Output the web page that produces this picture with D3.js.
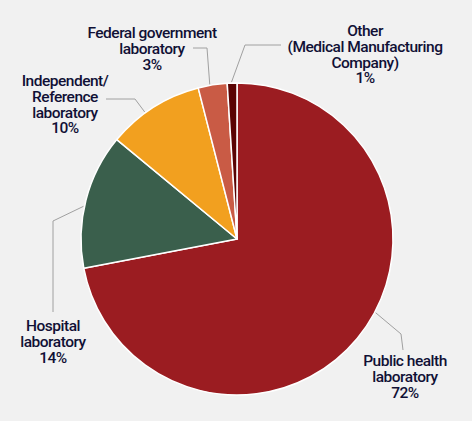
<!DOCTYPE html>
<html>
<head>
<meta charset="utf-8">
<script src="https://cdn.jsdelivr.net/npm/d3@7"></script>
<style>
  html, body { margin: 0; padding: 0; background: #f1f1f1; }
  #chart { width: 472px; height: 421px; }
  .lbl { font-family: "Roboto", sans-serif; font-weight: 500; font-size: 15.5px; letter-spacing: -0.5px; fill: #101035; }
</style>
</head>
<body>
<div id="chart"><svg></svg></div>
<script>
var categories = ["Public health laboratory", "Hospital laboratory", "Independent/Reference laboratory",
    "Federal government laboratory", "Other (Medical Manufacturing Company)"];
var values = [72, 14, 10, 3, 1];
var labelLines = [
    ["Public health", "laboratory", "72%"],
    ["Hospital", "laboratory", "14%"],
    ["Independent/", "Reference", "laboratory", "10%"],
    ["Federal government", "laboratory", "3%"],
    ["Other", "(Medical Manufacturing", "Company)", "1%"]
];
var colors = ["#9b1c21", "#3a5f4c", "#f2a01f", "#c95b45", "#5a0303"];

var chartWidth = 472, chartHeight = 421;
var cx = 237, cy = 239, radius = 156;

// label layout: angle where leader touches the pie, elbow points, text centre and first baseline
var layout = [
    { angle: 118, pts: [[401, 334], [403, 350]], x: 405, y: 366 },
    { angle: 282, pts: [[53, 221], [53, 312]], x: 53, y: 331 },
    { angle: 324, pts: [[135, 99], [106, 99]], x: 65, y: 86 },
    { angle: 350, pts: [[207, 48], [193, 48]], x: 152, y: 38 },
    { angle: 358, pts: [[245, 45], [281, 45]], x: 365, y: 36 }
];

var svg = d3.select("#chart svg")
    .attr("width", chartWidth)
    .attr("height", chartHeight);

var data = categories.map(function(c, i) {
    return { id: c, value: values[i], color: colors[i], lines: labelLines[i], lay: layout[i] };
});

var pie = d3.pie()
    .sort(null)
    .value(function(d) { return d.value; });

var arc = d3.arc()
    .innerRadius(0)
    .outerRadius(radius);

var g = svg.append("g")
    .attr("transform", "translate(" + cx + "," + cy + ")");

g.selectAll("path")
    .data(pie(data))
    .enter()
    .append("path")
    .attr("d", arc)
    .attr("fill", function(d) { return d.data.color; })
    .attr("stroke", "#ffffff")
    .attr("stroke-width", 1.5)
    .attr("stroke-linejoin", "round");

// leader lines
var line = d3.line();
svg.selectAll(".leader")
    .data(data)
    .enter()
    .append("path")
    .attr("class", "leader")
    .attr("fill", "none")
    .attr("stroke", "#a0a0a0")
    .attr("stroke-width", 1)
    .attr("d", function(d) {
        var a = d.lay.angle * Math.PI / 180;
        var start = [cx + (radius + 1) * Math.sin(a), cy - (radius + 1) * Math.cos(a)];
        return line([start].concat(d.lay.pts));
    });

// labels
var labels = svg.selectAll(".lbl")
    .data(data)
    .enter()
    .append("text")
    .attr("class", "lbl")
    .attr("text-anchor", "middle");

labels.selectAll("tspan")
    .data(function(d) {
        return d.lines.map(function(t, i) { return { t: t, x: d.lay.x, y: d.lay.y + i * 15.8 }; });
    })
    .enter()
    .append("tspan")
    .attr("x", function(d) { return d.x; })
    .attr("y", function(d) { return d.y; })
    .text(function(d) { return d.t; });
</script>
</body>
</html>
